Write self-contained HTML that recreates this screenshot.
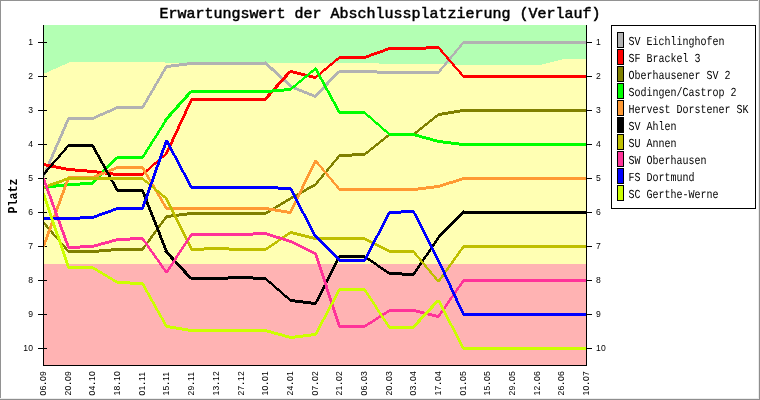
<!DOCTYPE html>
<html lang="de"><head><meta charset="utf-8"><title>Erwartungswert der Abschlussplatzierung (Verlauf)</title>
<style>
html,body{margin:0;padding:0;background:#fff;}
body{width:760px;height:400px;overflow:hidden;font-family:"Liberation Mono",monospace;}
svg{display:block;will-change:transform;}
text{font-family:"Liberation Mono",monospace;fill:#000;}
.t{font-size:15px;font-weight:normal;stroke:#000;stroke-width:0.5px;}
.k{font-family:"Liberation Sans",sans-serif;font-size:8.6px;letter-spacing:0.22px;}
.l{font-size:12.3px;text-rendering:geometricPrecision;}
.p{font-size:13.6px;font-weight:bold;}
</style></head><body>
<svg width="760" height="400" viewBox="0 0 760 400">
<rect x="0" y="0" width="760" height="400" fill="#ffffff"/>
<g shape-rendering="crispEdges">
<rect x="0" y="0" width="760" height="1" fill="#929292"/>
<rect x="0" y="0" width="1" height="400" fill="#929292"/>
<rect x="758" y="0" width="1" height="400" fill="#ececec"/>
<rect x="0" y="398" width="760" height="1" fill="#ececec"/>
<rect x="759" y="0" width="1" height="400" fill="#8e8e8e"/>
<rect x="0" y="399" width="760" height="1" fill="#8e8e8e"/>
<rect x="44" y="25" width="543" height="340" fill="#ffffb3"/>
<polygon points="44,25 44.00,73.70 71.00,61.70 93.86,61.70 118.55,61.70 143.23,61.70 167.91,62.60 192.59,62.90 217.27,62.90 241.95,62.90 266.64,62.90 291.32,62.90 316.00,62.90 340.68,62.90 365.36,62.90 390.05,64.00 414.73,64.00 439.41,64.00 464.09,64.80 488.77,64.80 513.45,64.80 541.14,64.80 562.82,59.20 587.00,59.20 587,25" fill="#b3ffb3"/>
<rect x="44" y="264" width="543" height="101" fill="#ffb3b3"/>
</g>
<g shape-rendering="crispEdges" fill="#000">
<rect x="38" y="42" width="9" height="1"/>
<rect x="583" y="42" width="9" height="1"/>
<rect x="38" y="76" width="9" height="1"/>
<rect x="583" y="76" width="9" height="1"/>
<rect x="38" y="110" width="9" height="1"/>
<rect x="583" y="110" width="9" height="1"/>
<rect x="38" y="144" width="9" height="1"/>
<rect x="583" y="144" width="9" height="1"/>
<rect x="38" y="178" width="9" height="1"/>
<rect x="583" y="178" width="9" height="1"/>
<rect x="38" y="212" width="9" height="1"/>
<rect x="583" y="212" width="9" height="1"/>
<rect x="38" y="246" width="9" height="1"/>
<rect x="583" y="246" width="9" height="1"/>
<rect x="38" y="280" width="9" height="1"/>
<rect x="583" y="280" width="9" height="1"/>
<rect x="38" y="314" width="9" height="1"/>
<rect x="583" y="314" width="9" height="1"/>
<rect x="38" y="348" width="9" height="1"/>
<rect x="583" y="348" width="9" height="1"/>
</g>
<clipPath id="c"><rect x="44" y="25" width="542" height="340"/></clipPath>
<g clip-path="url(#c)" shape-rendering="crispEdges">
<path fill="#b2b2b2" d="M70.22,118L44.78,177L41.78,177L67.22,118ZM68,117L93,117L93,120L68,120ZM92,117.22L118,105.78L118,108.78L92,120.22ZM117,106L143,106L143,109L117,109ZM168.29,66L143.71,108L140.71,108L165.29,66ZM166,65.06L192,61.94L192,64.94L166,68.06ZM191,62L217,62L217,65L191,65ZM216,62L241,62L241,65L216,65ZM240,62L266,62L266,65L240,65ZM265,60.54L291,84.46L291,88.46L265,64.54ZM290,84.8L316,95.2L316,98.2L290,87.8ZM341.48,71L316.52,97L312.52,97L337.48,71ZM339,70L365,70L365,73L339,73ZM364,69.98L390,71.02L390,74.02L364,72.98ZM389,71L414,71L414,74L389,74ZM413,71L439,71L439,74L413,74ZM465.42,42L439.58,73L436.58,73L462.42,42ZM463,41L488,41L488,44L463,44ZM487,41L513,41L513,44L487,44ZM512,41L538,41L538,44L512,44ZM537,41L562,41L562,44L537,44ZM561,41L587,41L587,44L561,44Z"/>
<path fill="#ff0000" d="M43,162.9L69,168.1L69,171.1L43,165.9ZM68,167.96L93,170.04L93,173.04L68,170.96ZM92,169.94L118,173.06L118,176.06L92,172.94ZM117,173L143,173L143,176L117,176ZM142,173.44L167,151.56L167,154.56L142,176.44ZM193.23,99L167.77,154L164.77,154L190.23,99ZM191,98L217,98L217,101L191,101ZM216,98L241,98L241,101L216,101ZM240,98L266,98L266,101L240,101ZM292.45,71L266.55,100L262.55,100L288.45,71ZM290,69.88L316,76.12L316,79.12L290,72.88ZM315,76.42L340,55.58L340,58.58L315,79.42ZM339,56L365,56L365,59L339,59ZM364,56.18L390,46.82L390,49.82L364,59.18ZM389,47L414,47L414,50L389,50ZM413,47.02L439,45.98L439,48.98L413,50.02ZM439.57,47L465.43,77L462.43,77L436.57,47ZM463,75L488,75L488,78L463,78ZM487,75L513,75L513,78L487,78ZM512,75L538,75L538,78L512,78ZM537,75L562,75L562,78L537,78ZM561,75L587,75L587,78L561,78Z"/>
<path fill="#808000" d="M44.57,222L70.43,252L67.43,252L41.57,222ZM68,250L93,250L93,253L68,253ZM92,250.04L118,247.96L118,250.96L92,253.04ZM117,248L143,248L143,251L117,251ZM168.36,216L143.64,250L140.64,250L165.36,216ZM166,215.06L192,211.94L192,214.94L166,218.06ZM191,212L217,212L217,215L191,215ZM216,212L241,212L241,215L216,215ZM240,212L266,212L266,215L240,215ZM265,212.3L291,196.7L291,199.7L265,215.3ZM290,197.28L316,182.72L316,185.72L290,200.28ZM341.41,155L316.59,185L313.59,185L338.41,155ZM339,154.02L365,152.98L365,155.98L339,157.02ZM364,153.4L390,132.6L390,135.6L364,156.4ZM389,133L414,133L414,136L389,136ZM413,133.4L439,112.6L439,115.6L413,136.4ZM438,113.08L464,108.92L464,111.92L438,116.08ZM463,109L488,109L488,112L463,112ZM487,109L513,109L513,112L487,112ZM512,109L538,109L538,112L512,112ZM537,109L562,109L562,112L537,112ZM561,109L587,109L587,112L561,112Z"/>
<path fill="#00ff00" d="M43,186.06L69,182.94L69,185.94L43,189.06ZM68,183.02L93,181.98L93,184.98L68,186.02ZM119.48,157L93.52,184L89.52,184L115.48,157ZM117,156L143,156L143,159L117,159ZM168.32,119L143.68,158L140.68,158L165.32,119ZM193.45,91L167.55,120L163.55,120L189.45,91ZM191,90L217,90L217,93L191,93ZM216,90L241,90L241,93L216,93ZM240,90L266,90L266,93L240,93ZM265,90.04L291,87.96L291,90.96L265,93.04ZM290,88.42L316,66.58L316,69.58L290,91.42ZM316.73,68L341.27,113L338.27,113L313.73,68ZM339,111L365,111L365,114L339,114ZM364,110.56L390,133.44L390,136.44L364,113.56ZM389,133L414,133L414,136L389,136ZM413,132.86L439,140.14L439,143.14L413,135.86ZM438,139.94L464,143.06L464,146.06L438,142.94ZM463,143L488,143L488,146L463,146ZM487,143L513,143L513,146L487,146ZM512,143L538,143L538,146L512,146ZM537,143L562,143L562,146L537,146ZM561,143L587,143L587,146L561,146Z"/>
<path fill="#ff9933" d="M70.18,177L44.82,247L41.82,247L67.18,177ZM68,176L93,176L93,179L68,179ZM92,176.2L118,165.8L118,168.8L92,179.2ZM117,166L143,166L143,169L117,169ZM143.71,167L168.29,209L165.29,209L140.71,167ZM166,207L192,207L192,210L166,210ZM191,207L217,207L217,210L191,210ZM216,207L241,207L241,210L216,210ZM240,207L266,207L266,210L240,210ZM265,206.92L291,211.08L291,214.08L265,209.92ZM317.24,160L291.76,213L288.76,213L314.24,160ZM316.59,160L341.41,190L338.41,190L313.59,160ZM339,188L365,188L365,191L339,191ZM364,188L390,188L390,191L364,191ZM389,188L414,188L414,191L389,191ZM413,188.06L439,184.94L439,187.94L413,191.06ZM438,185.16L464,176.84L464,179.84L438,188.16ZM463,177L488,177L488,180L463,180ZM487,177L513,177L513,180L487,180ZM512,177L538,177L538,180L512,180ZM537,177L562,177L562,180L537,180ZM561,177L587,177L587,180L561,180Z"/>
<path fill="#000000" d="M70.43,145L44.57,175L41.57,175L67.43,145ZM68,144L93,144L93,147L68,147ZM93.72,145L119.28,191L116.28,191L90.72,145ZM117,189L143,189L143,192L117,192ZM143.8,190L168.2,252L165.2,252L140.8,190ZM167.54,251L193.46,279L189.46,279L163.54,251ZM191,277L217,277L217,280L191,280ZM216,277.02L241,275.98L241,278.98L216,280.02ZM240,275.98L266,277.02L266,280.02L240,278.98ZM265,276.56L291,299.44L291,302.44L265,279.56ZM290,298.94L316,302.06L316,305.06L290,301.94ZM341.26,256L316.74,304L313.74,304L338.26,256ZM339,255L365,255L365,258L339,258ZM364,254.66L390,272.34L390,275.34L364,257.66ZM389,271.98L414,273.02L414,276.02L389,274.98ZM440.34,237L414.66,275L411.66,275L437.34,237ZM438,235.5L464,209.5L464,213.5L438,239.5ZM463,211L488,211L488,214L463,214ZM487,211L513,211L513,214L487,214ZM512,211L538,211L538,214L512,214ZM537,211L562,211L562,214L537,214ZM561,211L587,211L587,214L561,214Z"/>
<path fill="#bfbf00" d="M43,186.18L69,176.82L69,179.82L43,189.18ZM68,177L93,177L93,180L68,180ZM92,177L118,177L118,180L92,180ZM117,177L143,177L143,180L117,180ZM142,176.58L167,197.42L167,200.42L142,179.58ZM167.75,198L193.25,250L190.25,250L164.75,198ZM191,248.02L217,246.98L217,249.98L191,251.02ZM216,246.98L241,248.02L241,251.02L216,249.98ZM240,248L266,248L266,251L240,251ZM265,248.34L291,230.66L291,233.66L265,251.34ZM290,230.88L316,237.12L316,240.12L290,233.88ZM315,237L340,237L340,240L315,240ZM339,237L365,237L365,240L339,240ZM364,236.74L390,250.26L390,253.26L364,239.74ZM389,250L414,250L414,253L389,253ZM414.58,251L440.42,282L437.42,282L411.58,251ZM465.36,246L439.64,282L436.64,282L462.36,246ZM463,245L488,245L488,248L463,248ZM487,245L513,245L513,248L487,248ZM512,245L538,245L538,248L512,248ZM537,245L562,245L562,248L537,248ZM561,245L587,245L587,248L561,248Z"/>
<path fill="#ff3399" d="M44.82,178L70.18,248L67.18,248L41.82,178ZM68,246.02L93,244.98L93,247.98L68,249.02ZM92,245.14L118,237.86L118,240.86L92,248.14ZM117,238.02L143,236.98L143,239.98L117,241.02ZM143.65,238L168.35,273L165.35,273L140.65,238ZM193.33,234L167.67,273L164.67,273L190.33,234ZM191,233L217,233L217,236L191,236ZM216,233L241,233L241,236L216,236ZM240,233.02L266,231.98L266,234.98L240,236.02ZM265,231.84L291,240.16L291,243.16L265,234.84ZM290,239.76L316,252.24L316,255.24L290,242.76ZM316.84,253L341.16,327L338.16,327L313.84,253ZM339,325L365,325L365,328L339,328ZM364,325.32L390,308.68L390,311.68L364,328.32ZM389,309L414,309L414,312L389,312ZM413,308.88L439,315.12L439,318.12L413,311.88ZM465.35,280L439.65,317L436.65,317L462.35,280ZM463,279L488,279L488,282L463,282ZM487,279L513,279L513,282L487,282ZM512,279L538,279L538,282L512,282ZM537,279L562,279L562,282L537,282ZM561,279L587,279L587,282L561,282Z"/>
<path fill="#0000ff" d="M43,217L69,217L69,220L43,220ZM68,217.02L93,215.98L93,218.98L68,220.02ZM92,216.18L118,206.82L118,209.82L92,219.18ZM117,207L143,207L143,210L117,210ZM168.18,140L143.82,209L140.82,209L165.18,140ZM167.73,140L193.27,188L190.27,188L164.73,140ZM191,186L217,186L217,189L191,189ZM216,186L241,186L241,189L216,189ZM240,186L266,186L266,189L240,189ZM265,185.98L291,187.02L291,190.02L265,188.98ZM291.74,188L317.26,237L314.26,237L288.74,188ZM315,233.5L340,258.5L340,262.5L315,237.5ZM339,259L365,259L365,262L339,262ZM391.26,212L365.74,261L362.74,261L388.26,212ZM389,211.02L414,209.98L414,212.98L389,214.02ZM414.74,211L440.26,261L437.26,261L411.74,211ZM439.77,260L465.23,315L462.23,315L436.77,260ZM463,313L488,313L488,316L463,316ZM487,313L513,313L513,316L487,316ZM512,313L538,313L538,316L512,316ZM537,313L562,313L562,316L537,316ZM561,313L587,313L587,316L561,316Z"/>
<path fill="#ccff00" d="M44.83,193L70.17,268L67.17,268L41.83,193ZM68,266L93,266L93,269L68,269ZM92,265.7L118,281.3L118,284.3L92,268.7ZM117,280.98L143,282.02L143,285.02L117,283.98ZM143.72,283L168.28,327L165.28,327L140.72,283ZM166,324.92L192,329.08L192,332.08L166,327.92ZM191,329L217,329L217,332L191,332ZM216,329L241,329L241,332L216,332ZM240,329L266,329L266,332L240,332ZM265,328.86L291,336.14L291,339.14L265,331.86ZM290,336.06L316,332.94L316,335.94L290,339.06ZM341.27,289L316.73,335L313.73,335L338.27,289ZM339,288L365,288L365,291L339,291ZM365.67,289L391.33,328L388.33,328L362.67,289ZM389,326L414,326L414,329L389,329ZM440.46,300L414.54,328L410.54,328L436.46,300ZM439.74,300L465.26,349L462.26,349L436.74,300ZM463,347L488,347L488,350L463,350ZM487,347L513,347L513,350L487,350ZM512,347L538,347L538,350L512,350ZM537,347L562,347L562,350L537,350ZM561,347L587,347L587,350L561,350Z"/>
</g>
<g shape-rendering="crispEdges" fill="#000">
<rect x="43" y="25" width="1" height="341"/>
<rect x="586" y="25" width="1" height="341"/>
<rect x="43" y="365" width="544" height="1"/>
</g>
<text class="k" text-anchor="end" x="33.2" y="45.1">1</text>
<text class="k" x="596" y="45.1">1</text>
<text class="k" text-anchor="end" x="33.2" y="79.1">2</text>
<text class="k" x="596" y="79.1">2</text>
<text class="k" text-anchor="end" x="33.2" y="113.1">3</text>
<text class="k" x="596" y="113.1">3</text>
<text class="k" text-anchor="end" x="33.2" y="147.1">4</text>
<text class="k" x="596" y="147.1">4</text>
<text class="k" text-anchor="end" x="33.2" y="181.1">5</text>
<text class="k" x="596" y="181.1">5</text>
<text class="k" text-anchor="end" x="33.2" y="215.1">6</text>
<text class="k" x="596" y="215.1">6</text>
<text class="k" text-anchor="end" x="33.2" y="249.1">7</text>
<text class="k" x="596" y="249.1">7</text>
<text class="k" text-anchor="end" x="33.2" y="283.1">8</text>
<text class="k" x="596" y="283.1">8</text>
<text class="k" text-anchor="end" x="33.2" y="317.1">9</text>
<text class="k" x="596" y="317.1">9</text>
<text class="k" text-anchor="end" x="33.2" y="351.1">10</text>
<text class="k" x="596" y="351.1">10</text>
<text class="k" transform="translate(46.0,395.4) rotate(-90)">06<tspan dx="0.9" font-weight="bold">.</tspan><tspan dx="0.9">09</tspan></text>
<text class="k" transform="translate(70.7,395.4) rotate(-90)">20<tspan dx="0.9" font-weight="bold">.</tspan><tspan dx="0.9">09</tspan></text>
<text class="k" transform="translate(95.4,395.4) rotate(-90)">04<tspan dx="0.9" font-weight="bold">.</tspan><tspan dx="0.9">10</tspan></text>
<text class="k" transform="translate(120.0,395.4) rotate(-90)">18<tspan dx="0.9" font-weight="bold">.</tspan><tspan dx="0.9">10</tspan></text>
<text class="k" transform="translate(144.7,395.4) rotate(-90)">01<tspan dx="0.9" font-weight="bold">.</tspan><tspan dx="0.9">11</tspan></text>
<text class="k" transform="translate(169.4,395.4) rotate(-90)">15<tspan dx="0.9" font-weight="bold">.</tspan><tspan dx="0.9">11</tspan></text>
<text class="k" transform="translate(194.1,395.4) rotate(-90)">29<tspan dx="0.9" font-weight="bold">.</tspan><tspan dx="0.9">11</tspan></text>
<text class="k" transform="translate(218.8,395.4) rotate(-90)">13<tspan dx="0.9" font-weight="bold">.</tspan><tspan dx="0.9">12</tspan></text>
<text class="k" transform="translate(243.5,395.4) rotate(-90)">27<tspan dx="0.9" font-weight="bold">.</tspan><tspan dx="0.9">12</tspan></text>
<text class="k" transform="translate(268.1,395.4) rotate(-90)">10<tspan dx="0.9" font-weight="bold">.</tspan><tspan dx="0.9">01</tspan></text>
<text class="k" transform="translate(292.8,395.4) rotate(-90)">24<tspan dx="0.9" font-weight="bold">.</tspan><tspan dx="0.9">01</tspan></text>
<text class="k" transform="translate(317.5,395.4) rotate(-90)">07<tspan dx="0.9" font-weight="bold">.</tspan><tspan dx="0.9">02</tspan></text>
<text class="k" transform="translate(342.2,395.4) rotate(-90)">21<tspan dx="0.9" font-weight="bold">.</tspan><tspan dx="0.9">02</tspan></text>
<text class="k" transform="translate(366.9,395.4) rotate(-90)">06<tspan dx="0.9" font-weight="bold">.</tspan><tspan dx="0.9">03</tspan></text>
<text class="k" transform="translate(391.5,395.4) rotate(-90)">20<tspan dx="0.9" font-weight="bold">.</tspan><tspan dx="0.9">03</tspan></text>
<text class="k" transform="translate(416.2,395.4) rotate(-90)">03<tspan dx="0.9" font-weight="bold">.</tspan><tspan dx="0.9">04</tspan></text>
<text class="k" transform="translate(440.9,395.4) rotate(-90)">17<tspan dx="0.9" font-weight="bold">.</tspan><tspan dx="0.9">04</tspan></text>
<text class="k" transform="translate(465.6,395.4) rotate(-90)">01<tspan dx="0.9" font-weight="bold">.</tspan><tspan dx="0.9">05</tspan></text>
<text class="k" transform="translate(490.3,395.4) rotate(-90)">15<tspan dx="0.9" font-weight="bold">.</tspan><tspan dx="0.9">05</tspan></text>
<text class="k" transform="translate(515.0,395.4) rotate(-90)">29<tspan dx="0.9" font-weight="bold">.</tspan><tspan dx="0.9">05</tspan></text>
<text class="k" transform="translate(539.6,395.4) rotate(-90)">12<tspan dx="0.9" font-weight="bold">.</tspan><tspan dx="0.9">06</tspan></text>
<text class="k" transform="translate(564.3,395.4) rotate(-90)">26<tspan dx="0.9" font-weight="bold">.</tspan><tspan dx="0.9">06</tspan></text>
<text class="k" transform="translate(589.0,395.4) rotate(-90)">10<tspan dx="0.9" font-weight="bold">.</tspan><tspan dx="0.9">07</tspan></text>
<text class="p" text-anchor="middle" transform="translate(17,196) rotate(-90) scale(0.857,1)">Platz</text>
<text class="t" text-anchor="middle" transform="translate(380.0,18)">Erwartungswert der Abschlussplatzierung (Verlauf)</text>
<g shape-rendering="crispEdges">
<rect x="611.5" y="25.5" width="144" height="183" fill="#fff" stroke="#000" stroke-width="1"/>
<rect x="617.5" y="32.5" width="6" height="15" fill="#b2b2b2" stroke="#000" stroke-width="1"/>
<rect x="617.5" y="49.5" width="6" height="15" fill="#ff0000" stroke="#000" stroke-width="1"/>
<rect x="617.5" y="66.5" width="6" height="15" fill="#808000" stroke="#000" stroke-width="1"/>
<rect x="617.5" y="83.5" width="6" height="15" fill="#00ff00" stroke="#000" stroke-width="1"/>
<rect x="617.5" y="100.5" width="6" height="15" fill="#ff9933" stroke="#000" stroke-width="1"/>
<rect x="617.5" y="117.5" width="6" height="15" fill="#000000" stroke="#000" stroke-width="1"/>
<rect x="617.5" y="134.5" width="6" height="15" fill="#bfbf00" stroke="#000" stroke-width="1"/>
<rect x="617.5" y="151.5" width="6" height="15" fill="#ff3399" stroke="#000" stroke-width="1"/>
<rect x="617.5" y="168.5" width="6" height="15" fill="#0000ff" stroke="#000" stroke-width="1"/>
<rect x="617.5" y="185.5" width="6" height="15" fill="#ccff00" stroke="#000" stroke-width="1"/>
</g>
<text class="l" transform="translate(628.5,45.0) scale(0.813,1)">SV Eichlinghofen</text>
<text class="l" transform="translate(628.5,62.0) scale(0.813,1)">SF Brackel 3</text>
<text class="l" transform="translate(628.5,79.0) scale(0.813,1)">Oberhausener SV 2</text>
<text class="l" transform="translate(628.5,96.0) scale(0.813,1)">Sodingen/Castrop 2</text>
<text class="l" transform="translate(628.5,113.0) scale(0.813,1)">Hervest Dorstener SK</text>
<text class="l" transform="translate(628.5,130.0) scale(0.813,1)">SV Ahlen</text>
<text class="l" transform="translate(628.5,147.0) scale(0.813,1)">SU Annen</text>
<text class="l" transform="translate(628.5,164.0) scale(0.813,1)">SW Oberhausen</text>
<text class="l" transform="translate(628.5,181.0) scale(0.813,1)">FS Dortmund</text>
<text class="l" transform="translate(628.5,198.0) scale(0.813,1)">SC Gerthe-Werne</text>
</svg>
</body></html>
